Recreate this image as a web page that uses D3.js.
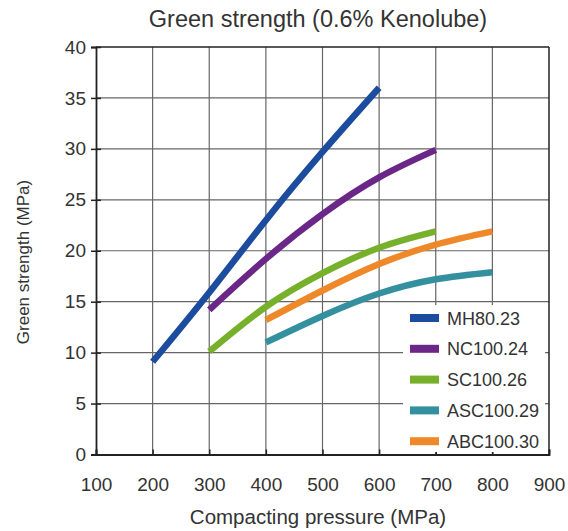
<!DOCTYPE html>
<html>
<head>
<meta charset="utf-8">
<script src="https://cdn.jsdelivr.net/npm/d3@7"></script>
<style>
  body { margin: 0; background: #fff; }
  svg text { font-family: "Liberation Sans", Arial, sans-serif; fill: #333; }
</style>
</head>
<body>
<svg id="chart" width="568" height="531"></svg>
<script>
// data
const pressure = [200, 300, 400, 500, 600, 700, 800];
const seriesNames = ["MH80.23", "NC100.24", "SC100.26", "ASC100.29", "ABC100.30"];
const seriesColors = ["#1c4c9e", "#6b2787", "#77b02a", "#34909f", "#ef8829"];
const mh80 = [9.1, 15.9, 23.0, 29.7, 36.0, null, null];
const nc100 = [null, 14.2, 19.2, 23.6, 27.2, 29.9, null];
const sc100 = [null, 10.1, 14.5, 17.8, 20.3, 21.9, null];
const asc100 = [null, null, 11.0, 13.6, 15.8, 17.2, 17.9];
const abc100 = [null, null, 13.2, 16.1, 18.7, 20.6, 21.9];
const xTicks = [100, 200, 300, 400, 500, 600, 700, 800, 900];
const yTicks = [0, 5, 10, 15, 20, 25, 30, 35, 40];

const seriesValues = [mh80, nc100, sc100, asc100, abc100];

const svg = d3.select("#chart");
const plotL = 96, plotR = 549, plotT = 47, plotB = 454.5;

const x = d3.scaleLinear().domain([100, 900]).range([plotL, plotR]);
const y = d3.scaleLinear().domain([0, 40]).range([plotB, plotT]);

// grid
const grid = svg.append("g");
grid.selectAll("line.v")
    .data(xTicks.slice(1, -1))
    .join("line")
    .attr("x1", d => x(d)).attr("x2", d => x(d))
    .attr("y1", plotT).attr("y2", plotB)
    .attr("stroke", "#666").attr("stroke-width", 1.2);
grid.selectAll("line.h")
    .data(yTicks.slice(1, -1))
    .join("line")
    .attr("x1", plotL).attr("x2", plotR)
    .attr("y1", d => y(d)).attr("y2", d => y(d))
    .attr("stroke", "#666").attr("stroke-width", 1.2);

// frame top / right
svg.append("line").attr("x1", plotL).attr("x2", plotR).attr("y1", plotT).attr("y2", plotT)
    .attr("stroke", "#222").attr("stroke-width", 1.5);
svg.append("line").attr("x1", plotR).attr("x2", plotR).attr("y1", plotT).attr("y2", plotB)
    .attr("stroke", "#222").attr("stroke-width", 1.5);

// axes
const xAxis = svg.append("g")
    .attr("transform", `translate(0,${plotB})`)
    .call(d3.axisBottom(x).tickValues(xTicks).tickSize(-5).tickPadding(23));
const yAxis = svg.append("g")
    .attr("transform", `translate(${plotL},0)`)
    .call(d3.axisLeft(y).tickValues(yTicks).tickSize(5).tickPadding(5));
[xAxis, yAxis].forEach(a => {
    a.select(".domain").attr("stroke", "#222").attr("stroke-width", 1.8);
    a.selectAll(".tick line").attr("stroke", "#222").attr("stroke-width", 1.5);
    a.selectAll("text").style("font-size", "19px").attr("fill", "#333");
});
yAxis.selectAll(".tick line").attr("x1", 5).attr("x2", -5);

// lines
const line = d3.line()
    .defined(d => d[1] != null)
    .x(d => x(d[0]))
    .y(d => y(d[1]))
    .curve(d3.curveNatural);

svg.append("g")
    .selectAll("path")
    .data(seriesValues)
    .join("path")
    .attr("d", vals => line(pressure.map((p, i) => [p, vals[i]])))
    .attr("fill", "none")
    .attr("stroke", (d, i) => seriesColors[i])
    .attr("stroke-width", 6.5);

// legend
const legend = svg.append("g");
legend.append("rect")
    .attr("x", 403).attr("y", 305)
    .attr("width", 142).attr("height", 147)
    .attr("fill", "#fff");
const items = legend.selectAll("g.item")
    .data(seriesNames)
    .join("g")
    .attr("transform", (d, i) => `translate(410,${318 + i * 30.8})`);
items.append("rect")
    .attr("x", 0).attr("y", -4)
    .attr("width", 29).attr("height", 8)
    .attr("fill", (d, i) => seriesColors[i]);
items.append("text")
    .attr("x", 37).attr("y", 6.5)
    .style("font-size", "18px")
    .text(d => d);

// titles
svg.append("text")
    .attr("x", 318).attr("y", 27)
    .attr("text-anchor", "middle")
    .style("font-size", "23.5px")
    .text("Green strength (0.6% Kenolube)");
svg.append("text")
    .attr("x", 318).attr("y", 524)
    .attr("text-anchor", "middle")
    .style("font-size", "20.5px")
    .text("Compacting pressure (MPa)");
svg.append("text")
    .attr("transform", "translate(29,262) rotate(-90)")
    .attr("text-anchor", "middle")
    .style("font-size", "17px")
    .text("Green strength (MPa)");
</script>
</body>
</html>
